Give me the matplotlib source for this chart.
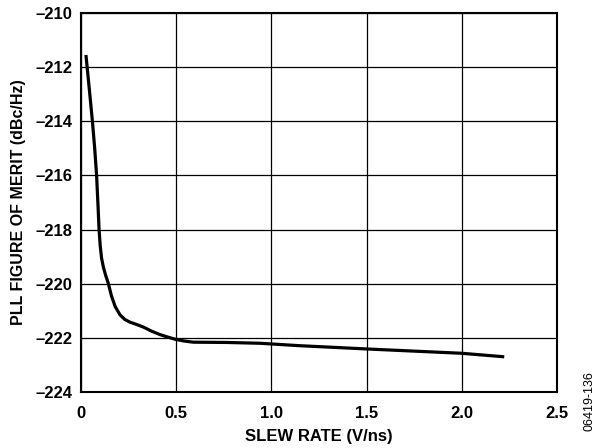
import matplotlib
matplotlib.use("Agg")
import matplotlib.pyplot as plt

plt.rcParams['font.family'] = ['Liberation Sans', 'DejaVu Sans']

# curve
slew_rate = [0.026, 0.045, 0.06, 0.072, 0.082, 0.09, 0.095, 0.101, 0.108, 0.118, 0.13, 0.144,
             0.16, 0.18, 0.205, 0.23, 0.257, 0.29, 0.327, 0.37, 0.415, 0.46, 0.499, 0.545,
             0.59, 0.765, 0.94, 1.15, 1.5, 2.0, 2.223]
fom = [-211.55, -212.9, -214.0, -215.0, -216.0, -217.2, -218.0, -218.6, -219.05, -219.4, -219.7, -220.0,
       -220.45, -220.85, -221.15, -221.32, -221.42, -221.5, -221.6, -221.75, -221.88, -221.98, -222.06, -222.12,
       -222.16, -222.17, -222.2, -222.29, -222.41, -222.57, -222.7]

x_ticks = [0, 0.5, 1.0, 1.5, 2.0, 2.5]
x_labels = ['0', '0.5', '1.0', '1.5', '2.0', '2.5']
y_ticks = [-224, -222, -220, -218, -216, -214, -212, -210]
y_labels = ['\u2013' + str(abs(v)) for v in y_ticks]

fig = plt.figure(figsize=(6.03, 4.48), dpi=100)
ax = fig.add_axes([0.1343, 0.125, 0.7894, 0.846])

ax.plot(slew_rate, fom, color='black', lw=2.3, solid_capstyle='butt', solid_joinstyle='round')

ax.set_xlim(0, 2.5)
ax.set_ylim(-224, -210)
ax.set_xticks(x_ticks)
ax.set_xticklabels(x_labels, fontsize=12, fontweight='bold')
ax.set_yticks(y_ticks)
ax.set_yticklabels(y_labels, fontsize=12, fontweight='bold')
ax.tick_params(axis='x', length=0, pad=10)
ax.tick_params(axis='y', length=0, pad=6)
ax.grid(True, color='black', lw=0.9)
for s in ax.spines.values():
    s.set_linewidth(1.5)

ax.set_xlabel('SLEW RATE (V/ns)', fontsize=12, fontweight='bold', labelpad=6)
ax.set_ylabel('PLL FIGURE OF MERIT (dBc/Hz)', fontsize=11.5, fontweight='bold', labelpad=7)

fig.text(0.978, 0.105, '06419-136', rotation=90, fontsize=9, ha='center', va='center')

fig.savefig('out.png', dpi=100)
